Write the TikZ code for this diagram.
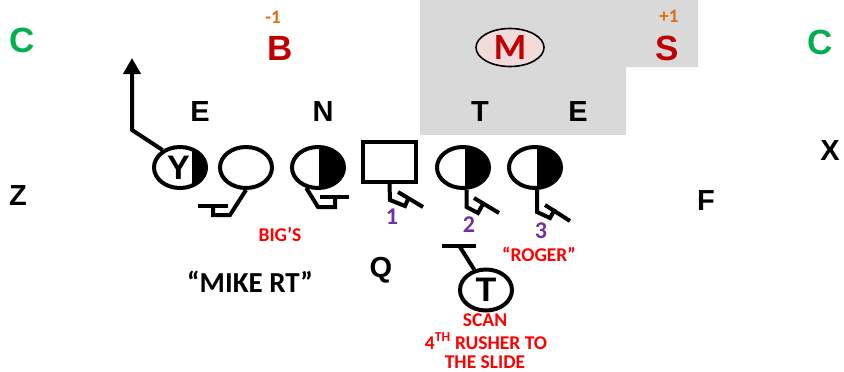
\documentclass[tikz,border=0pt]{standalone}
\usepackage{fontspec}
\setmainfont{Carlito}
\newfontfamily\arialb{Liberation Sans}[BoldFont={* Bold}]
\usetikzlibrary{shapes.geometric,arrows.meta}
\definecolor{zonegray}{HTML}{D9D9D9}
\definecolor{cgreen}{HTML}{00B050}
\definecolor{dred}{HTML}{C00000}
\definecolor{orng}{HTML}{E46C0A}
\definecolor{purp}{HTML}{7030A0}
\definecolor{pinkfill}{HTML}{F2DCDB}
\begin{document}
\begin{tikzpicture}[x=1pt,y=-1pt,
  big/.style={font=\arialb\fontsize{35}{35}\selectfont\bfseries, inner sep=0pt},
  lbl/.style={font=\arialb\fontsize{29}{29}\selectfont\bfseries, inner sep=0pt},
  phrase/.style={font=\fontsize{29}{29}\selectfont\bfseries, inner sep=0pt},
  num/.style={font=\fontsize{24}{24}\selectfont\bfseries, inner sep=0pt, text=purp},
  small/.style={font=\fontsize{19.5}{19.5}\selectfont\bfseries, inner sep=0pt, text=red},
  tiny/.style={font=\fontsize{19}{19}\selectfont\bfseries, inner sep=0pt, text=orng},
  plr/.style={ellipse, draw, line width=4pt, minimum width=52pt, minimum height=41pt, inner sep=0pt},
  half/.style={plr, path picture={\fill[black] ([xshift=#1]path picture bounding box.north) rectangle (path picture bounding box.south east);}},
  blk/.style={line width=4pt},
]
\useasboundingbox (0,0) rectangle (844,372);
% shaded zone
\fill[zonegray] (420,0) -- (698,0) -- (698,67) -- (626,67) -- (626,135) -- (420,135) -- cycle;

% defenders / labels
\node[big, text=cgreen] (cl) at (22,40) {C};
\node[big, text=cgreen] (cr) at (820,42) {C};
\node[big, text=dred] (b) at (280,48) {B};
\node[tiny] (bm) at (273,17) {-1};
\node[ellipse, draw, line width=1.6pt, fill=pinkfill, minimum width=68pt, minimum height=38pt, inner sep=0pt,
      font=\fontsize{37}{37}\selectfont\bfseries, text=dred] (m) at (510,47.5) {M};
\node[big, text=dred] (s) at (667,48) {S};
\node[tiny] (sp) at (669,16) {+1};
\node[lbl] (e1) at (200,112) {E};
\node[lbl] (n) at (323,112) {N};
\node[lbl] (t1) at (480,112) {T};
\node[lbl] (e2) at (578,112) {E};
\node[lbl] (x) at (830,151) {X};
\node[lbl] (z) at (18,196) {Z};
\node[lbl] (f) at (706,201) {F};
\node[lbl] (q) at (381,270) {Q};

% offense
\node[half=12pt, font=\arialb\fontsize{34}{34}\selectfont\bfseries] (y) at (180,167.5) {\hspace{-3pt}Y};
\node[plr] (p2) at (246,167.5) {};
\node[half=1pt] (p3) at (318,167.5) {};
\node[draw, line width=4pt, minimum width=53pt, minimum height=40pt, inner sep=0pt] (sq) at (389.5,162) {};
\node[half=1.5pt] (p4) at (463,167.5) {};
\node[half=1.5pt] (p5) at (535,167.5) {};
\node[plr, font=\arialb\fontsize{34}{34}\selectfont\bfseries] (tb) at (486,290) {T};

% Y route
\draw[blk, -{Triangle[width=17pt,length=16pt]}] (y.135) -- (132,130) -- (132,58);

% blocks
\draw[blk] (p2.south) -- (230,215) -- (213,215) -- (213,206);
\draw[blk] (198,206) -- (228,206);
\draw[blk] (p3.240) -- (318,207) -- (335,207) -- (335,197);
\draw[blk] (320,197) -- (349,197);
\draw[blk] (sq.south) -- (390,200) -- (405,206) -- (409,197);
\draw[blk] (398,192) -- (423,207);
\draw[blk] ([xshift=3.5pt]p4.south) -- (466.5,207) -- (478,213) -- (483,204);
\draw[blk] (474,198) -- (499,213);
\draw[blk] ([xshift=2pt]p5.south) -- (537,212) -- (550,218) -- (555,209);
\draw[blk] (545,205) -- (570,221);
\draw[blk] (tb.120) -- (460,247);
\draw[blk] (442,246) -- (476,246);

% numbers & notes
\node[num] (n1) at (392,217) {1};
\node[num] (n2) at (469,225) {2};
\node[num] (n3) at (541,231) {3};
\node[small] (bigs) at (280,234) {BIG’S};
\node[small] (roger) at (539,254) {“ROGER”};
\node[phrase] (mike) at (250,282) {“MIKE RT”};
\node[small] (scan) at (485,320) {SCAN};
\node[small] (rush) at (486,341) {4\textsuperscript{TH} RUSHER TO};
\node[small] (slide) at (485,362) {THE SLIDE};
\end{tikzpicture}
\end{document}
